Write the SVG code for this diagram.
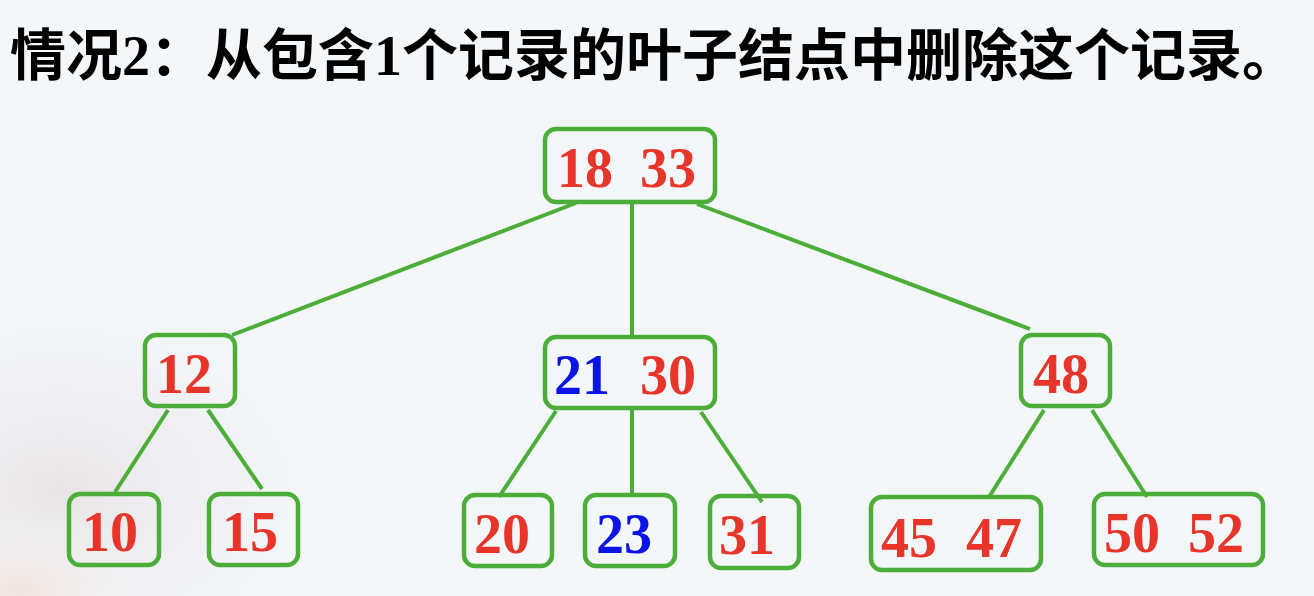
<svg xmlns="http://www.w3.org/2000/svg" width="1314" height="596" viewBox="0 0 1314 596">
  <defs>
    <radialGradient id="bgBlob" cx="0.5" cy="0.5" r="0.5">
      <stop offset="0" stop-color="#e3dcdc" stop-opacity="0.7"/>
      <stop offset="0.6" stop-color="#ebe8ec" stop-opacity="0.4"/>
      <stop offset="1" stop-color="#f4f7fa" stop-opacity="0"/>
    </radialGradient>
    <radialGradient id="bgBlob2" cx="0.5" cy="0.5" r="0.5">
      <stop offset="0" stop-color="#f2e0d8" stop-opacity="0.8"/>
      <stop offset="1" stop-color="#f4f7fa" stop-opacity="0"/>
    </radialGradient>
    <style>
      .box { fill: none; stroke: #4cae38; stroke-width: 4.5; }
      .edge { stroke: #4cae38; stroke-width: 4; stroke-linecap: butt; fill: none; }
      .num { font-family: "Liberation Serif", "Times New Roman", serif; font-weight: bold; font-size: 56px; text-anchor: middle; }
      .red { fill: #e8352a; }
      .blue { fill: #0a14e6; }
      .title { font-family: "Liberation Serif", "Noto Sans CJK SC", serif; font-weight: bold; font-size: 56px; fill: #000; }
    </style>
  </defs>

  <rect x="0" y="0" width="1314" height="596" fill="#f4f7fa"/>
  <ellipse cx="60" cy="490" rx="280" ry="200" fill="url(#bgBlob)"/>
  <ellipse cx="20" cy="590" rx="150" ry="80" fill="url(#bgBlob2)"/>

  <text class="title" x="10" y="75">情况2：从包含1个记录的叶子结点中删除这个记录。</text>

  <g id="connectors">
    <line class="edge" x1="576" y1="203" x2="232" y2="335"/>
    <line class="edge" x1="632" y1="203" x2="632" y2="337"/>
    <line class="edge" x1="697" y1="204" x2="1030" y2="329"/>
    <line class="edge" x1="168" y1="410" x2="115" y2="492"/>
    <line class="edge" x1="208" y1="410" x2="262" y2="489"/>
    <line class="edge" x1="556" y1="411" x2="499" y2="497"/>
    <line class="edge" x1="632" y1="410" x2="632" y2="497"/>
    <line class="edge" x1="701" y1="412" x2="762" y2="502"/>
    <line class="edge" x1="1044" y1="410" x2="989" y2="497"/>
    <line class="edge" x1="1092" y1="410" x2="1147" y2="497"/>
  </g>

  <g id="node-root">
    <rect class="box" x="545" y="129" width="170" height="73" rx="11"/>
    <text class="num red" x="585" y="187">18</text>
    <text class="num red" x="668" y="187">33</text>
  </g>
  <g id="node-12">
    <rect class="box" x="145" y="335" width="90" height="71" rx="11"/>
    <text class="num red" x="184" y="393">12</text>
  </g>
  <g id="node-21-30">
    <rect class="box" x="545" y="337" width="170" height="71" rx="11"/>
    <text class="num blue" x="582" y="394">21</text>
    <text class="num red" x="668" y="394">30</text>
  </g>
  <g id="node-48">
    <rect class="box" x="1021" y="335" width="89" height="71" rx="11"/>
    <text class="num red" x="1061" y="393">48</text>
  </g>
  <g id="node-10">
    <rect class="box" x="69" y="494" width="90" height="71" rx="11"/>
    <text class="num red" x="110" y="551">10</text>
  </g>
  <g id="node-15">
    <rect class="box" x="209" y="494" width="89" height="71" rx="11"/>
    <text class="num red" x="250" y="551">15</text>
  </g>
  <g id="node-20">
    <rect class="box" x="464" y="495" width="88" height="71" rx="11"/>
    <text class="num red" x="502" y="553">20</text>
  </g>
  <g id="node-23">
    <rect class="box" x="585" y="495" width="90" height="71" rx="11"/>
    <text class="num blue" x="624" y="553">23</text>
  </g>
  <g id="node-31">
    <rect class="box" x="710" y="496" width="89" height="72" rx="11"/>
    <text class="num red" x="747" y="554">31</text>
  </g>
  <g id="node-45-47">
    <rect class="box" x="871" y="497" width="170" height="73" rx="11"/>
    <text class="num red" x="909" y="557">45</text>
    <text class="num red" x="994" y="557">47</text>
  </g>
  <g id="node-50-52">
    <rect class="box" x="1094" y="494" width="169" height="71" rx="11"/>
    <text class="num red" x="1132" y="552">50</text>
    <text class="num red" x="1216" y="552">52</text>
  </g>
</svg>
